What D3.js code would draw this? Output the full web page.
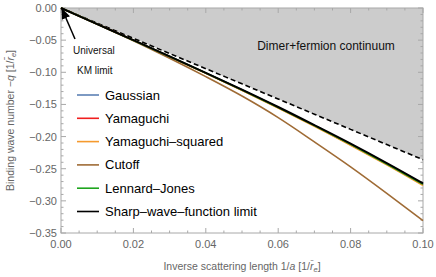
<!DOCTYPE html>
<html>
<head>
<meta charset="utf-8">
<script src="https://cdn.jsdelivr.net/npm/d3@7"></script>
<style>
  body { margin: 0; background: #fff; }
  text { font-family: "Liberation Sans", Arial, sans-serif; }
</style>
</head>
<body>
<div id="chart"></div>
<script>
// data (y = -q)
const invA = [0, 0.01, 0.02, 0.03, 0.04, 0.05, 0.06, 0.07, 0.08, 0.09, 0.10];
const gaussian = [0, -0.0250, -0.0501, -0.0754, -0.1010, -0.1273, -0.1545, -0.1827, -0.2118, -0.2421, -0.2738];
const yamaguchi = [0, -0.0251, -0.0502, -0.0756, -0.1013, -0.1278, -0.1551, -0.1834, -0.2127, -0.2432, -0.2750];
const yamaguchiSq = [0, -0.0251, -0.0503, -0.0757, -0.1015, -0.1281, -0.1555, -0.1840, -0.2134, -0.2441, -0.2762];
const cutoff = [0, -0.0252, -0.0510, -0.0782, -0.1068, -0.1370, -0.1705, -0.2082, -0.2470, -0.2882, -0.3307];
const lennardJones = [0, -0.0251, -0.0502, -0.0755, -0.1012, -0.1276, -0.1548, -0.1830, -0.2122, -0.2426, -0.2742];
const sharp = [0, -0.0250, -0.0500, -0.0752, -0.1008, -0.1270, -0.1540, -0.1822, -0.2110, -0.2412, -0.2727];
const threshold = [0, -0.0236, -0.0472, -0.0708, -0.0944, -0.1180, -0.1416, -0.1652, -0.1888, -0.2124, -0.2360];

const xTicks = [0, 0.02, 0.04, 0.06, 0.08, 0.10];
const yTicks = [0, -0.05, -0.10, -0.15, -0.20, -0.25, -0.30, -0.35];

const series = [
  { name: "Gaussian", values: gaussian, color: "#5d81b4" },
  { name: "Yamaguchi", values: yamaguchi, color: "#f01e1e" },
  { name: "Yamaguchi\u2013squared", values: yamaguchiSq, color: "#f59a2e" },
  { name: "Cutoff", values: cutoff, color: "#9f6b35" },
  { name: "Lennard\u2013Jones", values: lennardJones, color: "#1ea51e" },
  { name: "Sharp\u2013wave\u2013function limit", values: sharp, color: "#000000" }
];

const width = 436, height = 277;
const mLeft = 61, mRight = 423, mTop = 8, mBottom = 233;

const svg = d3.select("#chart").append("svg")
  .attr("width", width)
  .attr("height", height);

const x = d3.scaleLinear().domain([0, 0.1]).range([mLeft, mRight]);
const y = d3.scaleLinear().domain([0, -0.35]).range([mTop, mBottom]);

// continuum region above the threshold
const area = d3.area()
  .x((d, i) => x(invA[i]))
  .y0(y(0))
  .y1((d) => y(d));
svg.append("path")
  .datum(threshold)
  .attr("d", area)
  .attr("fill", "#cccccc");

// frame and ticks
const frameColor = "#a8a8a8";
svg.append("rect")
  .attr("x", mLeft).attr("y", mTop)
  .attr("width", mRight - mLeft).attr("height", mBottom - mTop)
  .attr("fill", "none").attr("stroke", frameColor).attr("stroke-width", 1);

const xMinor = d3.range(0, 0.1001, 0.005);
const yMinor = d3.range(0, -0.3501, -0.01);

function tickLen(v, step) {
  return Math.abs(v / step - Math.round(v / step)) < 1e-6 ? 5 : 2.5;
}

const tg = svg.append("g").attr("stroke", frameColor).attr("stroke-width", 1);
xMinor.forEach((v) => {
  const L = tickLen(v, 0.02);
  tg.append("line").attr("x1", x(v)).attr("x2", x(v)).attr("y1", mBottom).attr("y2", mBottom - L);
  tg.append("line").attr("x1", x(v)).attr("x2", x(v)).attr("y1", mTop).attr("y2", mTop + L);
});
yMinor.forEach((v) => {
  const L = tickLen(v, 0.05);
  tg.append("line").attr("y1", y(v)).attr("y2", y(v)).attr("x1", mLeft).attr("x2", mLeft + L);
  tg.append("line").attr("y1", y(v)).attr("y2", y(v)).attr("x1", mRight).attr("x2", mRight - L);
});

const fmt = d3.format(".2f");
svg.selectAll(".xlab").data(xTicks).enter().append("text")
  .attr("x", (d) => x(d)).attr("y", mBottom + 15)
  .attr("text-anchor", "middle")
  .attr("font-size", 11).attr("fill", "#666")
  .text(fmt);
svg.selectAll(".ylab").data(yTicks).enter().append("text")
  .attr("x", mLeft - 4).attr("y", (d) => y(d) + 4)
  .attr("text-anchor", "end")
  .attr("font-size", 11).attr("fill", "#666")
  .text(fmt);

// axis titles
const xt = svg.append("text")
  .attr("x", (mLeft + mRight) / 2).attr("y", 270)
  .attr("text-anchor", "middle").attr("font-size", 10.5).attr("fill", "#666");
xt.append("tspan").text("Inverse scattering length 1/");
xt.append("tspan").attr("font-style", "italic").text("a");
xt.append("tspan").text(" [1/");
xt.append("tspan").attr("font-style", "italic").text("r\u0304");
xt.append("tspan").attr("font-size", 7.5).attr("font-style", "italic").attr("dy", 2).text("e");
xt.append("tspan").attr("dy", -2).text("]");

const yt = svg.append("text")
  .attr("transform", `translate(14,${(mTop + mBottom) / 2}) rotate(-90)`)
  .attr("text-anchor", "middle").attr("font-size", 10.5).attr("fill", "#666");
yt.append("tspan").text("Binding wave number \u2212");
yt.append("tspan").attr("font-style", "italic").text("q");
yt.append("tspan").text("  [1/");
yt.append("tspan").attr("font-style", "italic").text("r\u0304");
yt.append("tspan").attr("font-size", 7.5).attr("font-style", "italic").attr("dy", 2).text("e");
yt.append("tspan").attr("dy", -2).text("]");

// curves
const line = d3.line()
  .x((d, i) => x(invA[i]))
  .y((d) => y(d))
  .curve(d3.curveMonotoneX);

svg.append("path")
  .datum(threshold)
  .attr("d", line)
  .attr("fill", "none")
  .attr("stroke", "#000")
  .attr("stroke-width", 1.6)
  .attr("stroke-dasharray", "5,3");

series.forEach((s) => {
  svg.append("path")
    .datum(s.values)
    .attr("d", line)
    .attr("fill", "none")
    .attr("stroke", s.color)
    .attr("stroke-width", s.color === "#000000" ? 2 : 1.6);
});

// annotations
svg.append("text")
  .attr("x", 326).attr("y", 50)
  .attr("text-anchor", "middle").attr("font-size", 12).attr("fill", "#111")
  .text("Dimer+fermion continuum");

svg.append("defs").append("marker")
  .attr("id", "arrow")
  .attr("viewBox", "0 0 10 10")
  .attr("refX", 9).attr("refY", 5)
  .attr("markerWidth", 11).attr("markerHeight", 11)
  .attr("markerUnits", "userSpaceOnUse")
  .attr("orient", "auto")
  .append("path").attr("d", "M0,1 L10,5 L0,9 Z").attr("fill", "#000");
svg.append("line")
  .attr("x1", 75).attr("y1", 39)
  .attr("x2", x(0) + 1).attr("y2", y(0) + 1)
  .attr("stroke", "#000").attr("stroke-width", 1.5)
  .attr("marker-end", "url(#arrow)");

svg.append("text").attr("x", 73).attr("y", 54)
  .attr("font-size", 10).attr("fill", "#111").text("Universal");
svg.append("text").attr("x", 77).attr("y", 74)
  .attr("font-size", 10).attr("fill", "#111").text("KM limit");

// legend
const lg = svg.selectAll(".leg").data(series).enter().append("g")
  .attr("transform", (d, i) => `translate(77,${95 + i * 23.3})`);
lg.append("line")
  .attr("x1", 0).attr("x2", 22).attr("y1", 0).attr("y2", 0)
  .attr("stroke", (d) => d.color).attr("stroke-width", 1.6);
lg.append("text")
  .attr("x", 28).attr("y", 4.5)
  .attr("font-size", 13).attr("fill", "#000")
  .text((d) => d.name);
</script>
</body>
</html>
